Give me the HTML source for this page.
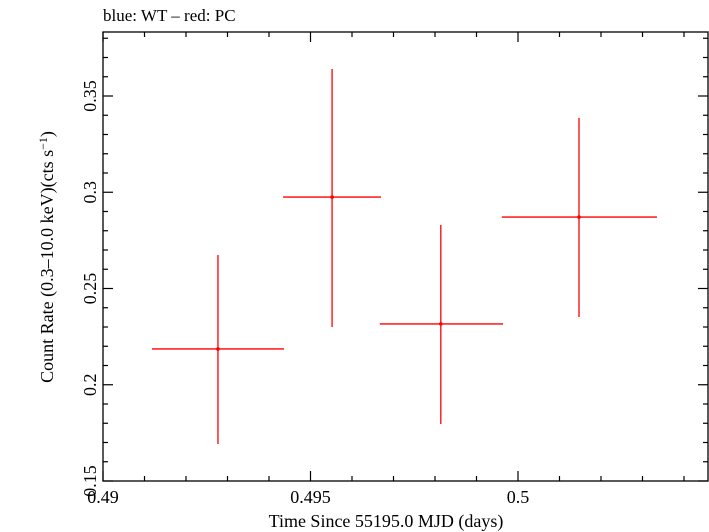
<!DOCTYPE html>
<html><head><meta charset="utf-8"><style>
body{margin:0;background:#fff}
svg{display:block;font-family:"Liberation Serif",serif}
</style></head><body>
<svg id="c" width="709" height="532">
<text x="103" y="21" font-size="17">blue: WT – red: PC</text>
<text x="386" y="527" font-size="18" text-anchor="middle">Time Since 55195.0 MJD (days)</text>
<text transform="translate(53,257) rotate(-90)" font-size="18" text-anchor="middle">Count Rate (0.3–10.0 keV)(cts s<tspan dy="-6" font-size="12">−1</tspan><tspan dy="6">)</tspan></text>
<g id="ticks"></g>
<g id="marks"></g>
<rect x="103" y="32" width="605" height="449" fill="none" stroke="#000" stroke-width="1.3"/>
</svg>
<script>
const xMid=[0.49277,0.49552,0.49814,0.50147];
const xLo=[0.49118,0.49434,0.49667,0.49961];
const xHi=[0.49436,0.4967,0.49964,0.50335];
const yVal=[0.2186,0.2975,0.2316,0.2871];
const yLo=[0.1692,0.230,0.1796,0.2352];
const yHi=[0.2674,0.364,0.283,0.3386];
const xTicks=[0.49,0.495,0.5];
const xTickLabels=["0.49","0.495","0.5"];
const yTicks=[0.15,0.2,0.25,0.3,0.35];
const yTickLabels=["0.15","0.2","0.25","0.3","0.35"];
const L=103,R=708,T=32,B=481;
const x0=0.49,x1=0.49+(R-L)/41500,y0=0.15,y1=0.15+(B-T)/1925;
const sx=v=>L+(v-x0)/(x1-x0)*(R-L);
const sy=v=>B-(v-y0)/(y1-y0)*(B-T);
const NS="http://www.w3.org/2000/svg";
function mk(p,tag,a){const e=document.createElementNS(NS,tag);for(const k in a)e.setAttribute(k,a[k]);p.appendChild(e);return e;}
const tg=document.getElementById('ticks'),mg=document.getElementById('marks');
for(let i=0;i<=Math.round((x1-x0)/0.001);i++){
  const v=x0+i*0.001,X=sx(v);if(X>R)break;
  const maj=i%5===0,len=maj?10:5;
  const l1=mk(tg,'line',{x1:X,x2:X,y1:B,y2:B-len,stroke:'#000','stroke-width':1.2});
  
  
  const l2=mk(tg,'line',{x1:X,x2:X,y1:T,y2:T+len,stroke:'#000','stroke-width':1.2});
  
  
}
for(let i=0;i<=Math.round((y1-y0)/0.01);i++){
  const v=y0+i*0.01,Y=sy(v);if(Y<T)break;
  const maj=i%5===0,len=maj?10:5;
  const l1=mk(tg,'line',{x1:L,x2:L+len,y1:Y,y2:Y,stroke:'#000','stroke-width':1.2});
  
  
  const l2=mk(tg,'line',{x1:R,x2:R-len,y1:Y,y2:Y,stroke:'#000','stroke-width':1.2});
  
  
}
xTicks.forEach((v,i)=>{
  const t=mk(tg,'text',{x:sx(v),y:503,'font-size':18,'text-anchor':'middle'});
  t.textContent=xTickLabels[i];
  
  
});
yTicks.forEach((v,i)=>{
  const Y=sy(v);
  const t=mk(tg,'text',{x:0,y:0,'font-size':18,'text-anchor':'middle',transform:`translate(96,${Y}) rotate(-90)`});
  t.textContent=yTickLabels[i];
  
  
});
xMid.forEach((v,i)=>{
  const g=mk(mg,'g',{stroke:'#f00','stroke-width':1.3});
  
  
  mk(g,'line',{x1:sx(xLo[i]),x2:sx(xHi[i]),y1:sy(yVal[i]),y2:sy(yVal[i])});
  mk(g,'line',{x1:sx(v),x2:sx(v),y1:sy(yLo[i]),y2:sy(yHi[i])});
  mk(g,'circle',{cx:sx(v),cy:sy(yVal[i]),r:1.8,fill:'#f00',stroke:'none'});
});
</script>
</body></html>
